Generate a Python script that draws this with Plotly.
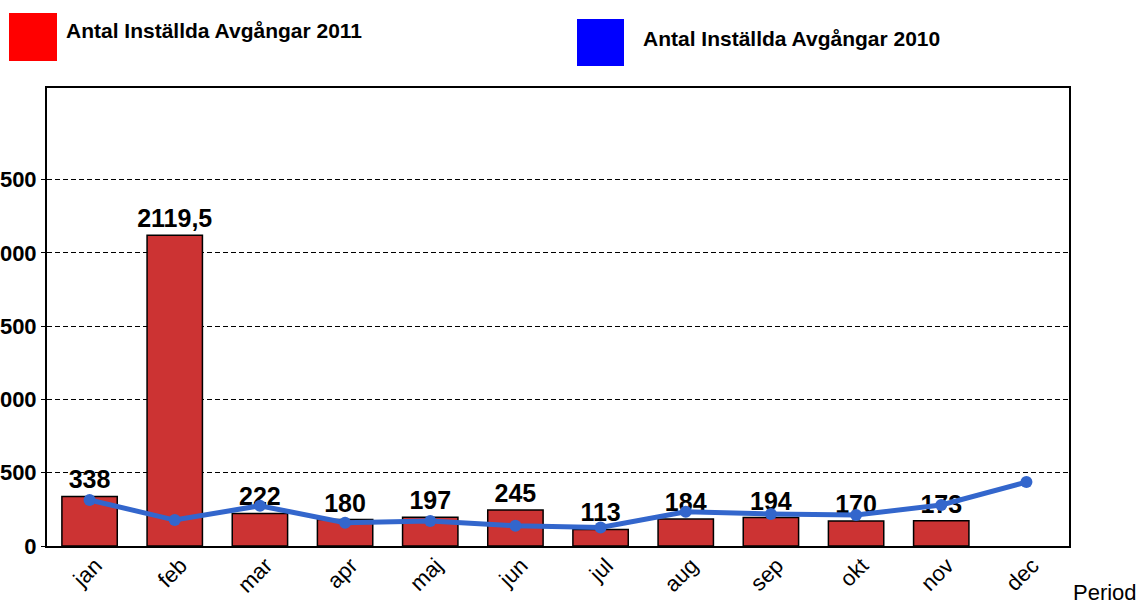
import plotly.graph_objects as go

months = ["jan", "feb", "mar", "apr", "maj", "jun", "jul", "aug", "sep", "okt", "nov", "dec"]
avg_2011 = [338, 2119.5, 222, 180, 197, 245, 113, 184, 194, 170, 173, None]
avg_2010 = [314, 177, 275, 159, 170, 138, 127, 234, 218, 211, 280, 436]
y_ticks = [0, 500, 1000, 1500, 2000, 2500]
name_2011 = "Antal Inställda Avgångar 2011"
name_2010 = "Antal Inställda Avgångar 2010"

W, H = 1145, 601
L, R, T, B = 47, 76, 88, 55
PW, PH = W - L - R, H - T - B


def px(x):
    return (x - L) / PW


def py(y):
    return (H - B - y) / PH


def fmt(v):
    if v is None:
        return ""
    return f"{v:g}".replace(".", ",")


FONT = "Liberation Sans, Arial, sans-serif"

fig = go.Figure()
fig.add_trace(go.Bar(
    x=months, y=avg_2011, name=name_2011,
    marker=dict(color="#CC3333", line=dict(color="black", width=1.5)),
    text=[fmt(v) for v in avg_2011], textposition="outside", constraintext="none",
    textfont=dict(family=FONT, size=25, color="black", weight="bold"),
    cliponaxis=False, showlegend=False,
))
fig.add_trace(go.Scatter(
    x=months, y=avg_2010, name=name_2010, mode="lines+markers",
    line=dict(color="#3366CC", width=5),
    marker=dict(color="#3366CC", size=12),
    cliponaxis=False, showlegend=False,
))

fig.update_layout(
    width=W, height=H, autosize=False,
    margin=dict(l=L, r=R, t=T, b=B, pad=0),
    paper_bgcolor="white", plot_bgcolor="white",
    bargap=0.35,
    font=dict(family=FONT, color="black"),
    xaxis=dict(
        type="category", range=[-0.5, len(months) - 0.5],
        tickangle=-45, tickfont=dict(size=22, color="black"),
        ticklabelshift=6, ticklabelstandoff=-4,
        showline=True, linecolor="black", linewidth=2, mirror=True,
        ticks="", showgrid=False, automargin=False,
    ),
    yaxis=dict(
        range=[0, 3125], tickvals=y_ticks, tickformat="d",
        tickfont=dict(size=22, color="black", weight="bold"),
        showline=True, linecolor="black", linewidth=2, mirror=True,
        ticks="outside", ticklen=4, tickcolor="black",
        showgrid=True, gridcolor="black", gridwidth=1, griddash="5px,3px",
        zeroline=False, automargin=False,
    ),
    shapes=[
        dict(type="rect", xref="paper", yref="paper", x0=px(9), x1=px(57), y0=py(61), y1=py(13),
             fillcolor="#FF0000", line=dict(width=0)),
        dict(type="rect", xref="paper", yref="paper", x0=px(577), x1=px(624), y0=py(66), y1=py(19),
             fillcolor="#0000FF", line=dict(width=0)),
    ],
    annotations=[
        dict(text=name_2011, xref="paper", yref="paper", x=px(64), y=py(31),
             xanchor="left", yanchor="middle", showarrow=False,
             font=dict(size=21, color="black", weight="bold")),
        dict(text=name_2010, xref="paper", yref="paper", x=px(641), y=py(38),
             xanchor="left", yanchor="middle", showarrow=False,
             font=dict(size=21, color="black", weight="bold")),
        dict(text="Period", xref="paper", yref="paper", x=px(1071), y=py(592),
             xanchor="left", yanchor="middle", showarrow=False,
             font=dict(size=22, color="black")),
    ],
)

fig.write_html("out.html", config={"displayModeBar": False},
               post_script="document.body.style.margin='0';")
